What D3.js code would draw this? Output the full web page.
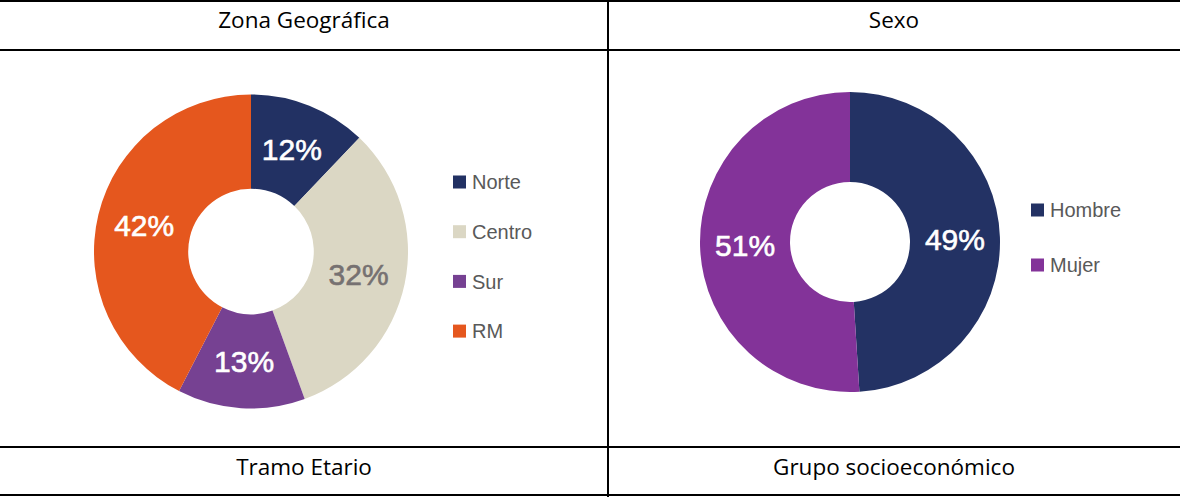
<!DOCTYPE html>
<html>
<head>
<meta charset="utf-8">
<script src="https://cdn.jsdelivr.net/npm/d3@7"></script>
<style>
  body { margin: 0; background: #fff; }
</style>
</head>
<body>
<script>
// Data
const headersTop = ["Zona Geográfica", "Sexo"];
const headersBottom = ["Tramo Etario", "Grupo socioeconómico"];

const zonaLabels = ["Norte", "Centro", "Sur", "RM"];
const zonaValues = [12, 32, 13, 42];
const zonaColors = ["#223163", "#dbd7c4", "#764192", "#e5571e"];
const zonaTextColors = ["#fff", "#767171", "#fff", "#fff"];

const sexoLabels = ["Hombre", "Mujer"];
const sexoValues = [49, 51];
const sexoColors = ["#233264", "#833399"];
const sexoTextColors = ["#fff", "#fff"];

const W = 1180, H = 497;
const divX = 608;

const svg = d3.select("body").append("svg")
    .attr("width", W)
    .attr("height", H);

// Table lines
const hLines = [1, 50, 447, 495];
svg.selectAll(".hline")
    .data(hLines)
    .enter().append("line")
    .attr("x1", 0).attr("x2", W)
    .attr("y1", d => d).attr("y2", d => d)
    .attr("stroke", "#000")
    .attr("stroke-width", 2);

svg.append("line")
    .attr("x1", divX).attr("x2", divX)
    .attr("y1", 0).attr("y2", H)
    .attr("stroke", "#000")
    .attr("stroke-width", 2);

// Cell headers
const cellCenters = [divX / 2, (divX + W) / 2];
const headerFont = "'Open Sans', 'Noto Sans', sans-serif";
svg.selectAll(".htop")
    .data(headersTop)
    .enter().append("text")
    .attr("x", (d, i) => cellCenters[i])
    .attr("y", 28)
    .attr("text-anchor", "middle")
    .attr("font-family", headerFont)
    .attr("font-size", 22.5)
    .attr("fill", "#000")
    .text(d => d);

svg.selectAll(".hbot")
    .data(headersBottom)
    .enter().append("text")
    .attr("x", (d, i) => cellCenters[i])
    .attr("y", 475)
    .attr("text-anchor", "middle")
    .attr("font-family", headerFont)
    .attr("font-size", 22.5)
    .attr("fill", "#000")
    .text(d => d);

// Donut drawing
function donut(cx, cy, rOuter, labels, values, colors, textColors, legendX, legendY, legendStep) {
    const g = svg.append("g").attr("transform", `translate(${cx},${cy})`);
    const pie = d3.pie().sort(null).value(d => d);
    const arc = d3.arc().innerRadius(rOuter * 0.4).outerRadius(rOuter);
    const arcs = pie(values);

    g.selectAll("path")
        .data(arcs)
        .enter().append("path")
        .attr("d", arc)
        .attr("fill", (d, i) => colors[i]);

    g.selectAll("text")
        .data(arcs)
        .enter().append("text")
        .attr("transform", d => `translate(${arc.centroid(d)})`)
        .attr("dy", "0.36em")
        .attr("text-anchor", "middle")
        .attr("font-family", "'Liberation Sans', Arial, sans-serif")
        .attr("font-size", 30)
        .attr("stroke", (d, i) => textColors[i])
        .attr("stroke-width", 0.6)
        .attr("fill", (d, i) => textColors[i])
        .text(d => d.data + "%");

    // Legend
    const lg = svg.append("g");
    const items = lg.selectAll("g")
        .data(labels)
        .enter().append("g")
        .attr("transform", (d, i) => `translate(${legendX},${legendY + i * legendStep})`);
    items.append("rect")
        .attr("x", 0).attr("y", -6.5)
        .attr("width", 13).attr("height", 13)
        .attr("fill", (d, i) => colors[i]);
    items.append("text")
        .attr("x", 19)
        .attr("dy", "0.36em")
        .attr("font-family", "'Liberation Sans', Arial, sans-serif")
        .attr("font-size", 20)
        .attr("fill", "#595959")
        .text(d => d);
}

donut(251, 251.5, 157, zonaLabels, zonaValues, zonaColors, zonaTextColors, 453, 182, 49.7);
donut(850, 242, 150, sexoLabels, sexoValues, sexoColors, sexoTextColors, 1031, 210, 55);
</script>
</body>
</html>
